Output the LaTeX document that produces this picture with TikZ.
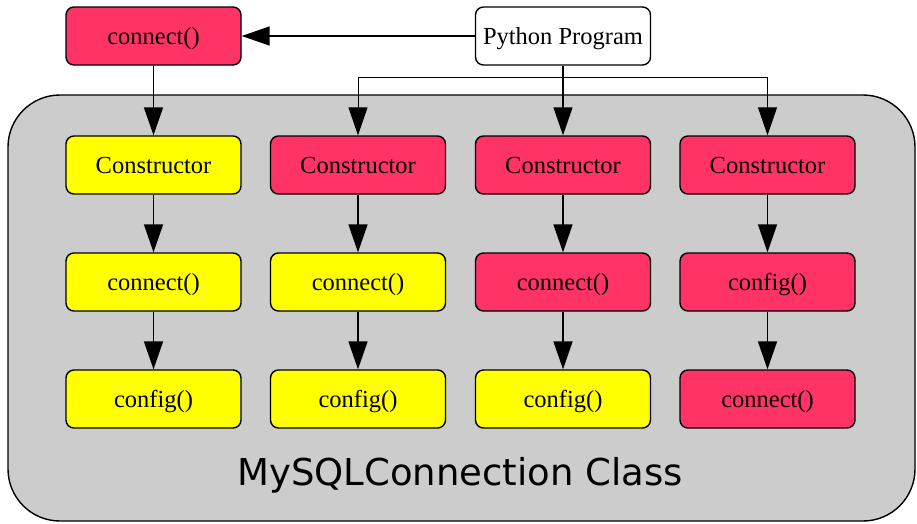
\documentclass[tikz,border=0pt]{standalone}
\usepackage{fontspec}
\setmainfont{Liberation Serif}
\newfontfamily\labelfont{DejaVu Sans}
\usetikzlibrary{arrows.meta,positioning}

\definecolor{callred}{HTML}{FF3366}
\definecolor{callyellow}{HTML}{FFFF00}
\definecolor{classgray}{HTML}{CCCCCC}

\tikzset{
  callbox/.style={draw=black, line width=1.4pt, rounded corners=8pt,
    minimum width=175pt, minimum height=58pt, inner sep=0pt,
    text height=16pt, text depth=0pt,
    font=\fontsize{24.5}{28}\selectfont},
  redbox/.style={callbox, fill=callred},
  yellowbox/.style={callbox, fill=callyellow},
  whitebox/.style={callbox, fill=white},
  flow/.style={line width=1.6pt, -{Triangle[length=28pt,width=19pt]}},
  branch/.style={line width=1pt, -{Triangle[length=28pt,width=19pt]}},
}

\begin{document}
\begin{tikzpicture}[x=1pt, y=-1pt]
  \useasboundingbox (0,0) rectangle (917,523);

  % class container
  \draw[line width=1.4pt, fill=classgray, rounded corners=52pt]
    (8,95) rectangle (915,521);
  \node[font=\labelfont\fontsize{37}{40}\selectfont, anchor=base]
    (classlabel) at (460,485) {MySQLConnection Class};

  % program and entry call
  \node[redbox]   (top)  at (153.5,36) {connect()};
  \node[whitebox] (prog) at (563,36)   {Python Program};

  % column 1
  \node[yellowbox] (c1a) at (153.5,165) {Constructor};
  \node[yellowbox] (c1b) at (153.5,282) {connect()};
  \node[yellowbox] (c1c) at (153.5,399) {config()};
  % column 2
  \node[redbox]    (c2a) at (358,165) {Constructor};
  \node[yellowbox] (c2b) at (358,282) {connect()};
  \node[yellowbox] (c2c) at (358,399) {config()};
  % column 3
  \node[redbox]    (c3a) at (563,165) {Constructor};
  \node[redbox]    (c3b) at (563,282) {connect()};
  \node[yellowbox] (c3c) at (563,399) {config()};
  % column 4
  \node[redbox]    (c4a) at (767.5,165) {Constructor};
  \node[redbox]    (c4b) at (767.5,282) {config()};
  \node[redbox]    (c4c) at (767.5,399) {connect()};

  % connectors
  \draw[flow] (prog.west) -- (top.east);
  \draw[flow] (top.south) -- (c1a.north);
  \draw[flow] (prog.south) -- (c3a.north);
  \coordinate (split) at (563,77);
  \draw[branch] (split) -| (c2a.north);
  \draw[branch] (split) -| (c4a.north);

  \foreach \col in {1,2,3,4} {
    \draw[flow] (c\col a.south) -- (c\col b.north);
    \draw[flow] (c\col b.south) -- (c\col c.north);
  }
\end{tikzpicture}
\end{document}
